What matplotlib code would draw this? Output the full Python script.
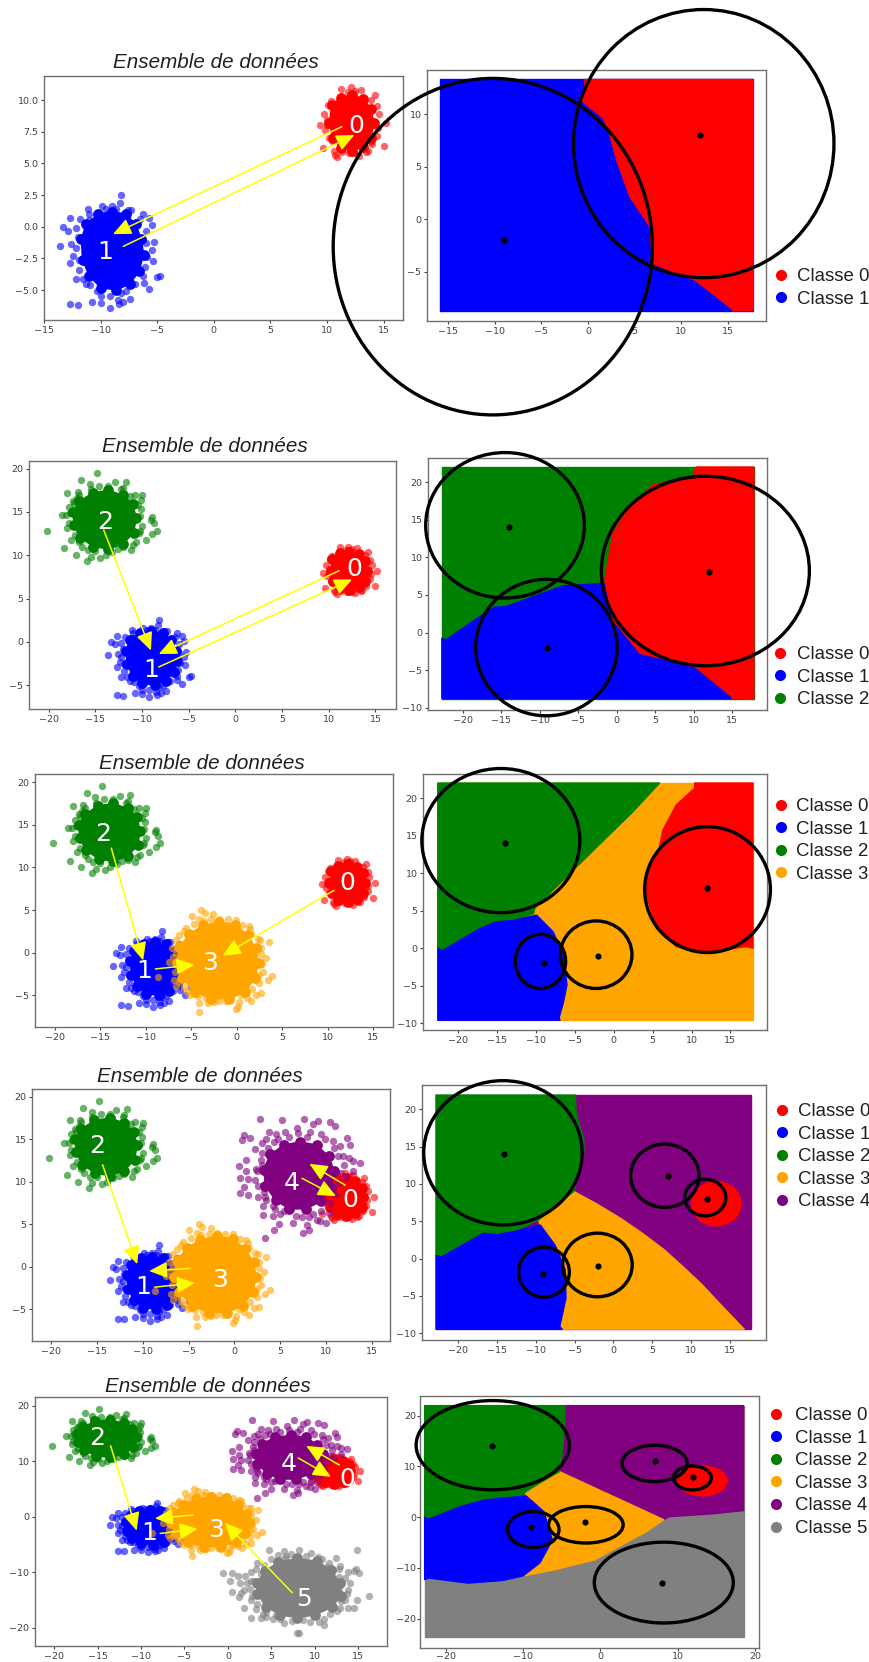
import matplotlib
matplotlib.use('Agg')
import matplotlib.pyplot as plt
from matplotlib.lines import Line2D
from matplotlib.patches import Ellipse, Polygon

W, H = 870, 1662

class_colors = ['red', 'blue', 'green', 'orange', 'purple', 'gray']
class_names = ['Classe 0', 'Classe 1', 'Classe 2', 'Classe 3', 'Classe 4', 'Classe 5']
class_means = [(12, 8), (-9, -2), (-14, 14), (-2, -1), (7, 11), (8, -13)]

# points: the loose ones around each blob
edge0 = [(11.2, 10.9), (12.1, 11.0), (13.0, 10.8), (14.2, 10.4), (10.1, 9.6), (14.4, 9.5), (9.7, 8.9), (14.6, 8.9),
         (9.4, 8.0), (15.2, 8.2), (9.8, 7.6), (14.4, 7.2), (9.6, 6.2), (15.0, 6.4), (10.7, 5.7), (12.8, 5.6),
         (11.9, 5.8), (13.6, 6.0), (14.0, 6.5), (10.2, 7.0), (10.6, 6.0), (10.9, 5.5), (11.2, 9.6), (13.4, 5.9),
         (10.0, 8.4), (10.3, 9.9), (13.9, 10.0), (14.2, 8.0), (13.9, 6.7), (12.5, 5.8), (11.3, 5.9), (10.4, 6.8),
         (14.5, 7.8), (12.5, 10.7), (11.8, 10.6), (10.0, 8.0)]
edge1 = [(-8.2, 2.5), (-8.3, 1.9), (-11.1, 1.4), (-9.9, 1.6), (-9.0, 1.6), (-7.3, 1.3), (-6.3, 1.0), (-12.7, 0.7),
         (-13.3, 0.0), (-12.9, -0.3), (-12.2, -0.1), (-5.7, 0.7), (-5.5, 0.1), (-13.6, -1.5), (-12.6, -1.4),
         (-5.3, -1.2), (-12.2, -1.7), (-6.0, -1.3), (-5.5, -1.8), (-12.4, -2.3), (-12.7, -2.9), (-5.4, -2.7),
         (-6.1, -3.2), (-5.0, -4.0), (-4.8, -3.9), (-12.2, -4.1), (-11.6, -4.1), (-6.2, -4.4), (-5.7, -4.9),
         (-7.0, -4.5), (-10.9, -4.6), (-12.7, -6.1), (-12.0, -6.2), (-10.8, -5.9), (-10.0, -6.0), (-9.2, -6.4),
         (-8.5, -5.8), (-8.4, -6.1), (-8.0, -5.9), (-7.4, -5.7), (-10.0, -5.5), (-9.2, -5.5), (-8.2, -5.2),
         (-11.8, 0.6), (-11.0, 1.0), (-7.6, 1.3), (-6.5, 0.6), (-12.0, -0.8), (-11.9, -2.6), (-11.9, -3.4), (-6.0, -0.3),
         (-5.9, -2.4), (-6.3, -3.9), (-11.3, -4.5), (-10.3, -5.1), (-7.8, -5.1), (-11.0, 0.5), (-9.5, 1.4), (-8.6, 1.4)]
edge2 = [(-14.8, 19.5), (-16.5, 18.7), (-11.7, 18.5), (-12.9, 18.4), (-15.6, 18.2), (-14.6, 18.0), (-18.0, 17.2),
         (-16.9, 17.3), (-10.0, 16.9), (-10.8, 17.0), (-10.1, 16.4), (-18.6, 14.6), (-18.1, 14.6), (-8.9, 14.4),
         (-9.0, 14.1), (-20.2, 12.8), (-8.7, 13.7), (-8.4, 12.8), (-8.9, 12.4), (-18.0, 13.1), (-9.6, 11.8),
         (-17.6, 11.8), (-18.3, 10.8), (-17.1, 10.0), (-15.9, 9.3), (-15.5, 9.8), (-14.5, 9.7), (-13.9, 10.0),
         (-12.6, 10.7), (-11.2, 10.6), (-15.8, 10.6), (-16.7, 11.5), (-10.3, 12.6), (-10.0, 13.4), (-10.1, 15.3),
         (-17.8, 15.6), (-17.4, 16.2), (-16.7, 17.0), (-15.5, 17.6), (-13.6, 18.0), (-12.2, 17.6), (-11.3, 16.8),
         (-17.3, 16.0), (-17.7, 14.9), (-17.8, 13.7), (-10.4, 15.8), (-10.2, 14.5), (-10.2, 12.8), (-10.6, 11.5),
         (-12.0, 10.9), (-13.2, 10.4), (-15.0, 10.5), (-16.4, 11.0), (-17.2, 12.3), (-17.0, 16.6), (-12.0, 17.8), (-11.0, 11.2)]
edge3 = [(-3.9, 5.0), (-4.9, 4.3), (-3.5, 4.7), (-2.6, 4.5), (-4.1, 4.0), (-1.9, 4.0), (-0.1, 3.8), (-6.3, 2.1),
         (-5.8, 2.5), (1.6, 2.2), (2.6, 1.5), (3.5, 1.2), (2.3, 0.7), (2.7, -0.2), (3.2, -0.6), (-6.7, 0.0),
         (2.9, -2.2), (3.9, -2.7), (3.4, -3.2), (2.5, -3.6), (2.7, -4.7), (2.1, -4.9), (1.1, -5.3), (1.6, -5.7),
         (0.1, -6.3), (-0.1, -6.6), (-4.1, -7.0), (-4.2, -5.9), (-3.2, -5.9), (-2.0, -5.7), (-5.1, -5.0),
         (-6.7, -3.9), (-4.9, -4.0), (-8.7, -2.9), (-7.5, -1.1), (-3.4, -5.3), (-0.9, -5.1), (-7.1, 0.6), (-6.9, -3.2),
         (-5.6, 2.9), (-4.7, 3.4), (-2.8, 3.9), (-1.0, 3.9), (0.6, 3.3), (1.5, 2.8), (2.3, 1.6), (2.7, 0.6), (-6.7, 1.5),
         (-7.0, -0.5), (-6.8, -2.2), (-6.3, -3.4), (-5.5, -4.5), (-4.3, -5.1), (-2.5, -5.8), (-1.2, -5.7), (0.5, -5.0),
         (1.7, -4.2), (2.5, -2.6), (2.8, -1.3), (1.3, 3.1), (-6.2, 1.0), (-3.6, 3.7), (0.2, -5.8), (-5.8, -4.0)]
edge4 = [(2.8, 17.4), (5.2, 17.2), (7.6, 17.4), (9.1, 17.1), (10.4, 17.0), (8.6, 16.8), (6.8, 16.3), (11.0, 16.5),
         (1.0, 15.5), (3.8, 15.9), (0.8, 14.9), (1.7, 15.1), (3.0, 14.5), (12.3, 15.1), (10.8, 14.8), (11.5, 14.2),
         (12.6, 14.3), (2.3, 13.8), (12.5, 12.8), (13.0, 12.4), (13.7, 12.2), (1.3, 12.5), (0.5, 11.8), (2.4, 11.5),
         (1.3, 11.2), (0.6, 10.4), (1.5, 10.3), (1.1, 9.4), (0.6, 8.7), (1.5, 8.4), (3.5, 7.9), (3.1, 7.2), (3.1, 6.1),
         (4.4, 6.8), (5.7, 6.9), (4.9, 5.0), (4.3, 4.3), (3.3, 3.4), (6.4, 5.1), (7.5, 4.0), (8.1, 4.3), (7.9, 4.9),
         (7.4, 5.9), (9.4, 5.4), (10.0, 5.1), (8.6, 6.2), (13.0, 11.3), (4.8, 15.0), (6.0, 15.3), (9.5, 15.6),
         (2.6, 9.5), (2.9, 12.6), (11.9, 13.0), (4.3, 14.7), (3.2, 8.8), (5.0, 6.2), (10.3, 6.3),
         (3.0, 13.4), (3.5, 15.0), (4.6, 15.6), (5.5, 15.8), (7.0, 15.7), (8.3, 15.8), (9.9, 15.0), (10.9, 14.0), (11.3, 13.0),
         (12.0, 12.0), (11.7, 11.0), (11.4, 9.8), (11.0, 8.5), (10.5, 7.5), (9.5, 6.5), (8.2, 5.9), (6.7, 6.0), (5.4, 6.5),
         (4.2, 7.1), (3.4, 8.2), (2.6, 8.2), (2.3, 10.2), (2.5, 11.2), (3.0, 12.0), (3.7, 14.0), (12.2, 10.5), (7.9, 15.2),
         (4.2, 6.0), (9.0, 5.5)]
edge5 = [(4.7, -5.9), (6.5, -6.1), (8.2, -6.0), (14.9, -6.0), (9.6, -6.6), (12.4, -7.4), (3.4, -8.4), (-0.6, -10.1),
         (0.5, -10.1), (1.1, -10.6), (2.0, -10.6), (14.7, -9.4), (13.8, -9.9), (15.1, -10.2), (14.5, -9.7),
         (0.2, -11.6), (0.5, -13.5), (1.3, -14.4), (1.9, -13.2), (1.9, -16.4), (3.4, -15.7), (1.5, -13.8), (2.7, -18.3),
         (3.8, -18.3), (6.4, -19.2), (8.0, -21.0), (8.2, -21.0), (11.0, -19.5), (12.6, -17.0), (13.8, -16.4),
         (14.5, -16.4), (14.8, -15.0), (16.2, -14.2), (13.8, -13.2), (12.8, -10.8), (10.5, -18.9), (8.6, -18.6),
         (5.5, -17.7), (4.4, -17.1), (5.0, -7.6), (6.6, -7.5), (10.8, -7.6), (12.9, -8.9), (3.0, -11.5), (2.8, -14.3),
         (13.0, -15.2), (6.0, -18.5), (2.6, -10.0), (3.2, -9.5), (4.2, -8.7), (5.8, -6.9), (7.2, -6.8), (9.0, -7.1),
         (10.4, -7.3), (11.6, -8.3), (12.8, -9.5), (13.5, -11.0), (14.0, -12.0), (13.7, -14.0), (13.5, -15.0), (12.9, -16.5),
         (11.7, -17.6), (11.0, -18.4), (9.4, -18.9), (7.4, -18.8), (5.2, -18.5), (4.0, -17.5), (3.2, -16.7), (2.6, -15.0),
         (2.5, -13.0), (2.7, -11.5), (1.4, -11.9), (2.2, -12.0), (6.7, -7.1), (11.4, -9.0), (12.8, -13.0), (3.8, -10.4),
         (4.4, -18.0)]

# outline of the solid middle of each blob
body0 = [(10.4, 9.6), (11.2, 10.2), (12.2, 10.4), (13.2, 10.1), (13.9, 9.3), (14.1, 8.2), (13.9, 7.0), (13.2, 6.3), (12.2, 6.0),
         (11.2, 6.2), (10.5, 7.0), (10.2, 8.2)]
body1 = [(-11.3, 0.2), (-10.2, 1.0), (-9.0, 1.2), (-7.8, 1.0), (-6.9, 0.2), (-6.4, -1.0), (-6.2, -2.2), (-6.6, -3.5), (-7.4, -4.5),
         (-8.6, -5.0), (-10.0, -4.8), (-11.0, -3.9), (-11.6, -2.6), (-11.7, -1.0)]
body2 = [(-16.7, 16.2), (-15.3, 17.2), (-13.6, 17.5), (-12.0, 16.9), (-11.0, 15.9), (-10.6, 14.3), (-10.9, 12.6), (-12.0, 11.3),
         (-13.6, 10.7), (-15.2, 11.0), (-16.6, 12.0), (-17.3, 13.5), (-17.4, 15.0)]
body3 = [(-5.2, 2.2), (-3.7, 3.2), (-1.9, 3.6), (-0.2, 3.3), (1.2, 2.1), (2.1, 0.5), (2.4, -1.2), (2.0, -3.0), (0.9, -4.6), (-0.8, -5.4),
         (-2.8, -5.4), (-4.6, -4.6), (-6.0, -3.0), (-6.6, -1.2), (-6.3, 0.7)]
body4 = [(3.9, 13.2), (5.4, 14.3), (7.2, 14.7), (9.0, 14.3), (10.3, 13.0), (10.9, 11.3), (10.6, 9.3), (9.5, 7.7), (7.8, 6.8), (6.0, 6.8),
         (4.5, 7.8), (3.4, 9.5), (3.2, 11.4)]
body5 = [(4.3, -9.7), (5.8, -8.2), (8.0, -7.5), (10.2, -8.0), (11.9, -9.6), (12.9, -12.0), (13.0, -14.2), (12.0, -16.3), (10.0, -17.7),
         (8.0, -18.2), (6.0, -17.7), (4.4, -16.2), (3.4, -14.0), (3.3, -12.0)]

edges = [edge0, edge1, edge2, edge3, edge4, edge5]
bodies = [body0, body1, body2, body3, body4, body5]

# one entry per row of the montage
n_classes = [2, 3, 4, 5, 6]

labels_row1 = [(0, 12.6, 7.95), (1, -9.56, -2.0)]
labels_row2 = [(0, 12.7, 8.4), (1, -8.97, -3.3), (2, -13.9, 13.85)]
labels_row3 = [(0, 12.2, 8.15), (1, -10.2, -2.1), (2, -14.66, 13.9), (3, -2.9, -1.2)]
labels_row4 = [(0, 12.7, 7.9), (1, -10.0, -2.4), (2, -15.0, 14.2), (3, -1.6, -1.6), (4, 6.3, 9.9)]
labels_row5 = [(0, 13.7, 6.8), (1, -9.1, -3.0), (2, -15.0, 14.2), (3, -1.4, -2.4), (4, 7.05, 9.5), (5, 8.7, -14.9)]

# x0, y0, x1, y1
arrows_row1 = [(11.3, 7.9, -8.9, -0.58), (-8.0, -1.55, 12.4, 7.24)]
arrows_row2 = [(-14.1, 12.9, -9.04, -1.0), (11.1, 8.2, -8.2, -1.4), (-8.2, -2.9, 12.5, 7.2)]
arrows_row3 = [(-13.8, 12.25, -10.3, -0.9), (-8.96, -1.9, -4.65, -1.4), (10.7, 7.3, -1.55, -0.35)]
arrows_row4 = [(-14.4, 12.0, -10.6, 0.3), (-4.9, -0.2, -9.3, -0.5), (-8.7, -2.4, -4.3, -1.9), (12.1, 9.6, 8.2, 12.1),
               (7.4, 10.4, 11.1, 8.3)]
arrows_row5 = [(-13.5, 12.8, -10.5, -2.5), (-4.0, 0.3, -8.4, -0.3), (-7.8, -3.0, -3.5, -2.2), (7.4, -13.7, -0.35, -1.1),
               (12.8, 9.35, 9.0, 12.8), (8.1, 10.6, 11.85, 7.2)]

# cx, cy, rx, ry
rings_row1 = [(12.4, 7.2, 13.95, 12.75), (-10.2, -2.6, 17.1, 16.0)]
rings_row2 = [(11.5, 8.18, 13.5, 12.6), (-9.13, -2.0, 9.18, 9.07), (-14.5, 14.25, 10.3, 9.67)]
rings_row3 = [(12.06, 7.8, 8.08, 8.38), (-9.4, -1.76, 3.23, 3.62), (-14.5, 14.33, 10.15, 9.6), (-2.25, -0.87, 4.6, 4.5)]
rings_row4 = [(11.8, 8.17, 2.64, 2.45), (-8.93, -1.82, 3.26, 3.35), (-14.2, 14.17, 10.18, 9.66), (-2.06, -0.85, 4.47, 4.26),
              (6.6, 11.1, 4.4, 4.24)]
rings_row5 = [(11.9, 7.74, 2.44, 2.36), (-8.67, -2.44, 3.33, 3.54), (-13.9, 14.2, 9.9, 8.8), (-1.87, -1.5, 4.82, 3.6),
              (7.02, 10.6, 4.22, 3.58), (8.2, -12.9, 8.98, 7.97)]

# decision regions: extent of the grid, class behind everything, then outlines
extent_row1 = (-15.9, 17.7, -8.7, 13.3)
extent_row2 = (-22.7, 17.8, -8.8, 22)
extent_row3 = (-22.6, 17.9, -9.6, 22)
extent_row4 = (-22.8, 17.7, -9.45, 21.9)
extent_row5 = (-22.7, 18.5, -23.7, 22)
base_class = [1, 2, 3, 4, 5]

regions_row1 = [(0, [(-0.3, 13.3), (-0.57, 11.2), (1.65, 9.6), (2.26, 8.3), (3.08, 5.6), (4.5, 2.1), (6.65, -0.7), (6.9, -4.2),
                     (11.5, -5.8), (15.4, -8.5), (15.5, -8.7), (17.7, -8.7), (17.7, 13.3)])]
regions_row2 = [(1, [(-22.7, -0.76), (-22.2, -1), (-17.8, 2.1), (-15.8, 3.4), (-14.5, 3.4), (-7, 6.2), (-1.8, 6.5), (0, 6.5),
                     (16, -8.8), (-22.7, -8.8)]),
                (0, [(10.3, 22), (9.9, 20.8), (4.7, 19.6), (1.7, 16.7), (-0.5, 13.2), (-1.56, 7), (-0.5, 1.7), (3, -2.75),
                     (10.1, -4.5), (14.9, -8.5), (15, -8.8), (17.8, -8.8), (17.8, 22)])]
regions_row3 = [(2, [(-22.6, 22), (5.9, 22), (2.5, 18.2), (-4.8, 10.8), (-10.15, 5.3), (-10.3, 4.6), (-12.9, 3.7), (-15.1, 3.5),
                     (-17.2, 2.6), (-22.1, -0.4), (-22.6, 0)]),
                (1, [(-22.6, 0), (-22.1, -0.4), (-17.2, 2.6), (-15.1, 3.5), (-12.9, 3.7), (-9.9, 4.4), (-7.8, 2.2), (-6.5, -0.7),
                     (-6, -4.9), (-6.5, -7.4), (-7, -9.2), (-6.9, -9.6), (-22.6, -9.6)]),
                (0, [(10.4, 22), (10.4, 21.3), (8.06, 19.1), (6.3, 15.7), (5.9, 13.5), (4.4, 10.4), (4, 7.7), (5.5, 2.6), (8.06, 0.2),
                     (12.1, -0.7), (16.2, 0.1), (17, 0.2), (17.9, 0), (17.9, 22)])]
regions_row4 = [(3, [(-5.1, 9), (-2.1, 7.3), (0.9, 5.4), (3.7, 3.4), (6.5, 1.2), (8.85, -1), (11.2, -3.3), (14, -6.4), (16.8, -9.45),
                     (-6.8, -9.45), (-9.6, 5.2)]),
                (2, [(-22.8, 21.9), (-4.9, 21.9), (-4.8, 19.5), (-3.8, 15.9), (-3.8, 14.2), (-5.1, 9), (-9.6, 5.2), (-12.85, 3.6),
                     (-15, 3.2), (-16.7, 3.4), (-22.1, 0.2), (-22.8, 0.4)]),
                (1, [(-22.8, 0.4), (-22.1, 0.2), (-16.7, 3.4), (-15, 3.2), (-12.85, 3.6), (-9.4, 4.5), (-7.5, 1.8), (-6.2, -1.5),
                     (-6.1, -5.3), (-6.9, -9.1), (-6.6, -9.45), (-22.8, -9.45)])]
regions_row5 = [(4, [(-4.6, 22), (18.5, 22), (18.5, 1.3), (14.4, 0.65), (8.9, 0.1), (8.2, -0.5), (-5.3, 9), (-5, 12), (-4.6, 17.8)]),
                (3, [(-5.3, 9), (8.2, -0.5), (6, -2.8), (-0.7, -8.4), (-6, -10.4), (-10, -11.6), (-9.8, 4.4)]),
                (2, [(-22.7, 22), (-4.6, 22), (-4.6, 17.8), (-5, 12), (-5.3, 9), (-9.8, 5), (-9.8, 4.4), (-14.9, 3.4), (-18, 2.1),
                     (-22.2, -0.4), (-22.7, 0)]),
                (1, [(-22.7, 0), (-22.2, -0.4), (-18, 2.1), (-14.9, 3.4), (-9.6, 4.2), (-7.3, 1.1), (-6.2, -4.5), (-7.8, -9),
                     (-10, -11.6), (-12.7, -12.5), (-17.1, -13), (-22.2, -12), (-22.7, -12.3)])]

# the class 0 patch that is left round the class 0 centre in the last two rows: cx, cy, rx, ry
patch_row4 = (13.2, 7.35, 3.26, 3.06)
patch_row5 = (13.2, 7.15, 3.27, 3.08)

all_labels = [labels_row1, labels_row2, labels_row3, labels_row4, labels_row5]
all_arrows = [arrows_row1, arrows_row2, arrows_row3, arrows_row4, arrows_row5]
all_rings = [rings_row1, rings_row2, rings_row3, rings_row4, rings_row5]
all_extents = [extent_row1, extent_row2, extent_row3, extent_row4, extent_row5]
all_regions = [regions_row1, regions_row2, regions_row3, regions_row4, regions_row5]
all_patches = [None, None, None, patch_row4, patch_row5]

# layout, in pixels of the montage: left, top, right, bottom
left_boxes = [(44, 76, 403, 320), (29, 461, 396, 709), (35, 774, 393, 1027), (32, 1089, 390, 1341), (35, 1397, 387, 1646)]
right_boxes = [(427, 70, 766, 321), (428, 458, 767, 710), (423, 774, 767, 1030), (422, 1085, 766, 1340), (420, 1396, 759, 1648)]
left_xlims = [(-15.0, 16.7), (-22.1, 17.2), (-22.2, 17.2), (-22.1, 17.0), (-22.2, 18.3)]
left_ylims = [(-7.36, 11.9), (-7.75, 20.87), (-8.7, 20.94), (-8.73, 20.9), (-23.3, 21.6)]
right_xlims = [(-17.25, 19.07), (-24.5, 19.5), (-24.5, 19.7), (-24.6, 19.6), (-23.3, 20.5)]
right_ylims = [(-9.67, 14.2), (-10.3, 23.2), (-10.9, 23.2), (-10.9, 23.25), (-25.8, 23.9)]

left_xticks = [[-15, -10, -5, 0, 5, 10, 15]] + [[-20, -15, -10, -5, 0, 5, 10, 15]] * 4
left_yticks = [[-5, -2.5, 0, 2.5, 5, 7.5, 10], [-5, 0, 5, 10, 15, 20], [-5, 0, 5, 10, 15, 20], [-5, 0, 5, 10, 15, 20],
               [-20, -10, 0, 10, 20]]
right_xticks = [[-15, -10, -5, 0, 5, 10, 15], [-20, -15, -10, -5, 0, 5, 10, 15], [-20, -15, -10, -5, 0, 5, 10, 15],
                [-20, -15, -10, -5, 0, 5, 10, 15], [-20, -10, 0, 10, 20]]
right_yticks = [[-5, 0, 5, 10], [-10, -5, 0, 5, 10, 15, 20], [-10, -5, 0, 5, 10, 15, 20], [-10, -5, 0, 5, 10, 15, 20],
                [-20, -10, 0, 10, 20]]

title_pos = [(216, 62), (205, 447), (202, 764), (200, 1077), (208, 1386)]
legend_pos = [(772, 268), (771, 646), (772, 798), (773, 1103), (767, 1407)]
legend_pad = [0.36, 0.40, 0.30, 0.36, 0.50]


def add_axes_px(fig, box):
    l, t, r, b = box
    ax = fig.add_axes([l / W, 1 - b / H, (r - l) / W, (b - t) / H])
    for spine in ax.spines.values():
        spine.set_color('#707070')
        spine.set_linewidth(1.0)
    ax.tick_params(labelsize=6.8, colors='#404040', length=2.5, width=0.8, pad=1.5)
    return ax


def draw_clouds(ax, n):
    for k in range(n):
        ax.add_patch(Polygon(bodies[k], closed=True, fc=class_colors[k], ec=class_colors[k], lw=1))
        bx, by = zip(*bodies[k])
        ax.scatter(bx, by, s=60, color=class_colors[k], linewidths=0)
        ex, ey = zip(*edges[k])
        ax.scatter(ex, ey, s=28, color=class_colors[k], alpha=0.6, linewidths=0)


def draw_regions(ax, row):
    x0, x1, y0, y1 = all_extents[row]
    outline = [(x0, y0), (x1, y0), (x1, y1), (x0, y1)]
    color = class_colors[base_class[row]]
    ax.add_patch(Polygon(outline, closed=True, fc=color, ec=color, lw=1, joinstyle='round'))
    if all_patches[row] is not None:
        cx, cy, rx, ry = all_patches[row]
        ax.add_patch(Ellipse((cx, cy), 2 * rx, 2 * ry, fc='red', ec='none', zorder=1.5))
    for k, poly in all_regions[row]:
        ax.add_patch(Polygon(poly, closed=True, fc=class_colors[k], ec=class_colors[k], lw=1, joinstyle='round'))


fig = plt.figure(figsize=(W / 100, H / 100), dpi=100)

for row, n in enumerate(n_classes):
    # data set panel
    ax = add_axes_px(fig, left_boxes[row])
    draw_clouds(ax, n)
    for x0, y0, x1, y1 in all_arrows[row]:
        ax.annotate('', xy=(x1, y1), xytext=(x0, y0), zorder=4,
                    arrowprops=dict(arrowstyle='-|>,head_length=1.1,head_width=0.5', mutation_scale=10,
                                    fc='yellow', ec='yellow', lw=1.1, shrinkA=0, shrinkB=0))
    for k, x, y in all_labels[row]:
        ax.text(x, y, str(k), color='white', fontsize=18, ha='center', va='center', zorder=5)
    ax.set_xlim(left_xlims[row])
    ax.set_ylim(left_ylims[row])
    ax.set_xticks(left_xticks[row])
    ax.set_yticks(left_yticks[row])

    tx, ty = title_pos[row]
    fig.text(tx / W, 1 - ty / H, 'Ensemble de données', family='Liberation Sans', style='italic', fontsize=14.9,
             ha='center', va='center', color='#202020')

    # decision panel
    ax = add_axes_px(fig, right_boxes[row])
    if row == 4:
        ax.tick_params(length=2, pad=0.8)
    draw_regions(ax, row)
    for cx, cy, rx, ry in all_rings[row]:
        ax.add_patch(Ellipse((cx, cy), 2 * rx, 2 * ry, fc='none', ec='black', lw=2.4, clip_on=False, zorder=4))
    mx, my = zip(*class_means[:n])
    ax.scatter(mx, my, s=20, color='black', linewidths=0, zorder=5)
    ax.set_xlim(right_xlims[row])
    ax.set_ylim(right_ylims[row])
    ax.set_xticks(right_xticks[row])
    ax.set_yticks(right_yticks[row])

    handles = [Line2D([], [], linestyle='none', marker='o', markersize=8, color=class_colors[k],
                      markeredgewidth=0, label=class_names[k]) for k in range(n)]
    lx, ly = legend_pos[row]
    fig.legend(handles=handles, loc='upper left', bbox_to_anchor=(lx / W, 1 - ly / H), frameon=False, borderaxespad=0,
               borderpad=0, handlelength=1.0, handletextpad=legend_pad[row], labelspacing=0.3,
               prop={'family': 'Liberation Sans', 'size': 13.4}, labelcolor='#202020')

fig.savefig('out.png', dpi=100)
